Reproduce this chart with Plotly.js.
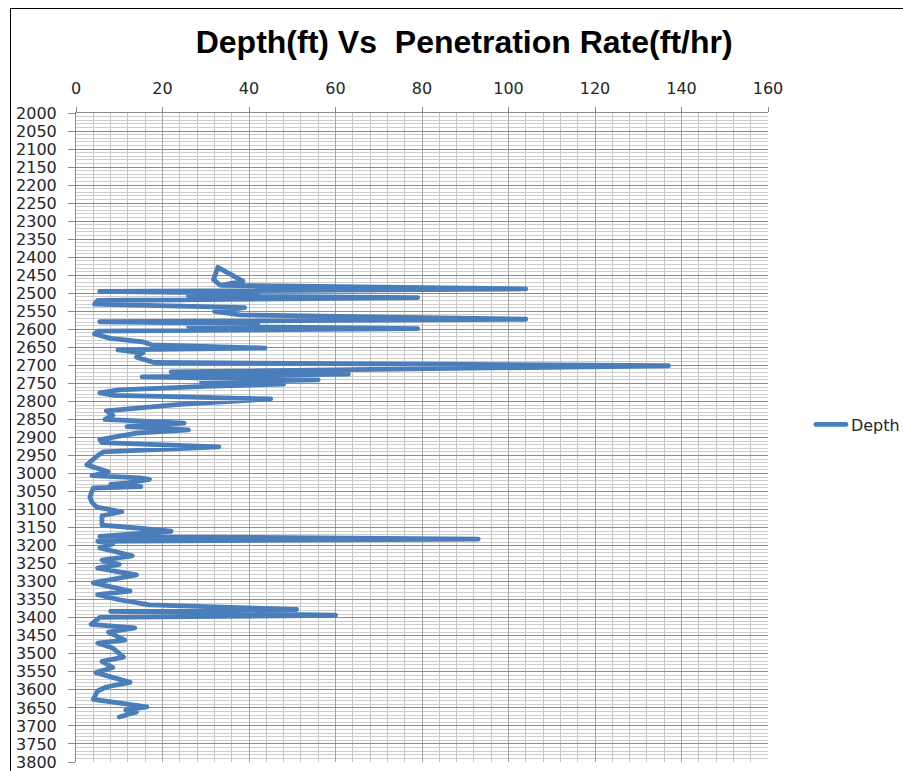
<!DOCTYPE html>
<html>
<head>
<meta charset="utf-8">
<script src="https://cdn.plot.ly/plotly-3.0.1.min.js"></script>
<style>
html,body{margin:0;padding:0;background:#fff;}
#chart{position:absolute;left:0;top:0;width:903px;height:771px;}
#frame{position:absolute;left:10px;top:8px;width:900px;height:780px;border-left:1px solid #000;border-top:1px solid #000;pointer-events:none;}
#chart path.js-line{stroke-linejoin:round !important;stroke-linecap:round;}
</style>
</head>
<body>
<div id="chart"></div>
<div id="frame"></div>
<script>
// Penetration rate (ft/hr) along the trace, in drawing order
const rate = [33.3, 31.8, 32.8, 38.6, 33.5, 104, 5.5, 42, 26, 79, 5, 4.3, 39, 32, 38,
  104, 5.5, 42, 26, 79, 5, 4.3, 8, 15.5, 17.5, 43.7, 9.7, 15.5, 14, 16.4, 18,
  137, 22, 63, 15.3, 56, 29, 48, 30, 10, 5.5, 9, 45, 24, 7, 8.5, 6.7, 25, 11.8, 26, 14,
  5.5, 6, 33, 6.3, 4.8, 2.5, 7.4, 3.7, 14.8, 17, 12, 8, 15, 4, 3.2, 3.7, 4.8, 10.6, 6, 6,
  14, 22, 5.5, 93, 5, 8.5, 5.5, 13, 6, 10, 5, 14, 4, 12.5, 5, 10, 17, 51, 8, 60, 5.5,
  3.5, 13.6, 7.5, 11.3, 5, 8.5, 11, 6, 8.5, 4.6, 12.5, 7, 5, 4, 8, 16.4, 11.5, 14, 10];
// Depth (ft) for each point above
const depth = [2477, 2462, 2428, 2466, 2478, 2488, 2495, 2500, 2507, 2512, 2520, 2530, 2540, 2550, 2560,
  2572, 2579, 2584, 2591, 2598, 2605, 2613, 2625, 2635, 2643, 2652, 2657, 2665, 2677, 2685, 2692,
  2701, 2718, 2724, 2732, 2740, 2746, 2752, 2758, 2768, 2776, 2783, 2793, 2808, 2826, 2838, 2850, 2860, 2870, 2879, 2888,
  2906, 2914, 2926, 2940, 2952, 2976, 2995, 3006, 3012, 3016, 3026, 3030, 3036, 3040, 3065, 3080, 3093, 3106, 3117, 3143,
  3151, 3160, 3174, 3182, 3188, 3195, 3206, 3228, 3240, 3252, 3262, 3281, 3303, 3326, 3336, 3350, 3364, 3377, 3382, 3393, 3399,
  3418, 3428, 3440, 3462, 3470, 3484, 3509, 3521, 3538, 3552, 3579, 3592, 3603, 3626, 3633, 3647, 3656, 3661, 3675];
const seriesName = "Depth";
const chartTitle = "Depth(ft) Vs  Penetration Rate(ft/hr)";

const tickFont = {family: "DejaVu Sans, sans-serif", size: 16, color: "#262626"};

Plotly.newPlot("chart", [{
  x: rate, y: depth, type: "scatter", mode: "lines", name: seriesName,
  line: {color: "#4a7ebb", width: 4.8}
}], {
  width: 903, height: 771,
  paper_bgcolor: "#fff", plot_bgcolor: "#fff",
  margin: {l: 76, r: 135, t: 113, b: 9, autoexpand: false},
  title: {text: "<b>" + chartTitle + "</b>", x: 0.514, xref: "container", y: 0.946, yref: "container",
          yanchor: "middle", xanchor: "center",
          font: {family: "Liberation Sans, sans-serif", size: 32, color: "#000"}},
  showlegend: true,
  legend: {x: 1.062, xanchor: "left", y: 0.52, yanchor: "middle", font: tickFont, bgcolor: "rgba(0,0,0,0)"},
  xaxis: {side: "top", range: [0, 160], tick0: 0, dtick: 20, showgrid: true, gridcolor: "#a6a6a6", gridwidth: 1,
          minor: {dtick: 4, showgrid: true, gridcolor: "#c4c4c4", gridwidth: 1},
          ticks: "outside", ticklen: 5, tickcolor: "#8c8c8c", showline: true, linecolor: "#8c8c8c",
          ticklabelstandoff: 7, ticklabeloverflow: "allow",
          zeroline: false, tickfont: tickFont, fixedrange: true},
  yaxis: {range: [3800, 2000], tick0: 2000, dtick: 50, showgrid: true, gridcolor: "#8c8c8c", gridwidth: 1,
          minor: {dtick: 10, showgrid: true, gridcolor: "#cdcdcd", gridwidth: 1},
          ticks: "outside", ticklen: 7, tickcolor: "#8c8c8c", showline: true, linecolor: "#8c8c8c",
          ticklabelstandoff: 8, ticklabeloverflow: "allow",
          zeroline: false, tickfont: tickFont, fixedrange: true}
}, {displayModeBar: false, staticPlot: true});
</script>
</body>
</html>
